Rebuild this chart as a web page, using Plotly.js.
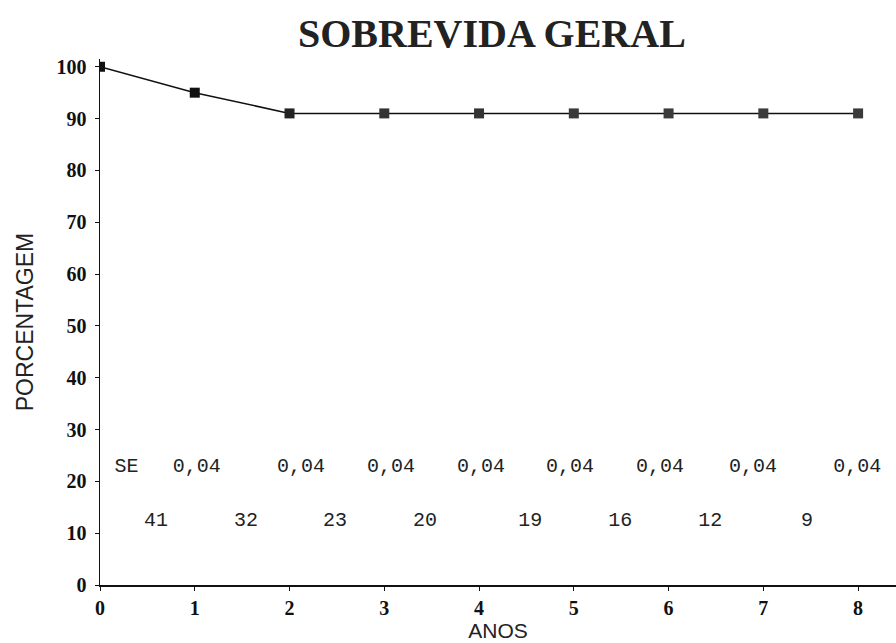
<!DOCTYPE html>
<html>
<head>
<meta charset="utf-8">
<script src="https://cdn.plot.ly/plotly-3.0.1.min.js"></script>
<style>html,body{margin:0;padding:0;background:#fff;}#chart{width:896px;height:643px;}</style>
</head>
<body>
<div id="chart"></div>
<script>
// Data
var years = [0, 1, 2, 3, 4, 5, 6, 7, 8];
var survival = [100, 95, 91, 91, 91, 91, 91, 91, 91];
var seLabels = ["SE", "0,04", "0,04", "0,04", "0,04", "0,04", "0,04", "0,04", "0,04"];
var seX = [0.28, 1.02, 2.12, 3.07, 4.02, 4.96, 5.91, 6.89, 7.99];
var seY = 22.8;
var atRisk = ["41", "32", "23", "20", "19", "16", "12", "9"];
var atRiskX = [0.59, 1.54, 2.48, 3.43, 4.54, 5.49, 6.44, 7.46];
var atRiskY = 12.4;
var yTicks = [0, 10, 20, 30, 40, 50, 60, 70, 80, 90, 100];

var monoFont = 'Liberation Mono, Courier New, monospace';
var serifFont = 'Liberation Serif, Times New Roman, serif';
var sansFont = 'Liberation Sans, Arial, sans-serif';

var traces = [
  {
    x: years, y: survival, type: 'scatter', mode: 'lines+markers',
    line: {color: '#111', width: 1.5},
    marker: {symbol: 'square', size: 10, color: ['#111','#111','#222','#333','#333','#3a3a3a','#3a3a3a','#3a3a3a','#3a3a3a']},
    hoverinfo: 'skip', showlegend: false
  },
  {
    x: seX, y: seX.map(function(){return seY;}), type: 'scatter', mode: 'text',
    text: seLabels, textposition: 'middle center',
    textfont: {family: monoFont, size: 20, color: '#222'},
    hoverinfo: 'skip', showlegend: false
  },
  {
    x: atRiskX, y: atRiskX.map(function(){return atRiskY;}), type: 'scatter', mode: 'text',
    text: atRisk, textposition: 'middle center',
    textfont: {family: monoFont, size: 20, color: '#222'},
    hoverinfo: 'skip', showlegend: false
  }
];

var layout = {
  width: 896, height: 643,
  paper_bgcolor: '#fff', plot_bgcolor: '#fff',
  margin: {l: 100, r: 0, t: 59, b: 58},
  title: {
    text: '<b>SOBREVIDA GERAL</b>',
    font: {family: serifFont, size: 40, color: '#222'},
    x: 0.549, xanchor: 'center', y: 0.948, yanchor: 'middle'
  },
  xaxis: {
    range: [0, 8.4], tickvals: years, ticktext: years.map(String),
    showgrid: false, zeroline: false, showline: true, linecolor: '#111', linewidth: 1.5,
    ticks: 'outside', ticklen: 4, tickcolor: '#111',
    tickfont: {family: serifFont, size: 20, color: '#111', weight: 'bold'},
    title: {text: 'ANOS', standoff: 6, font: {family: sansFont, size: 21, color: '#222'}}
  },
  yaxis: {
    range: [0, 101.5], tickvals: yTicks, ticktext: yTicks.map(String),
    showgrid: false, zeroline: false, showline: true, linecolor: '#111', linewidth: 1.5,
    ticks: 'outside', ticklen: 4, tickcolor: '#111', ticklabelstandoff: 4,
    tickfont: {family: serifFont, size: 20, color: '#111', weight: 'bold'},
    title: {text: 'PORCENTAGEM', standoff: 16, font: {family: sansFont, size: 23, color: '#222'}}
  }
};

Plotly.newPlot('chart', traces, layout, {staticPlot: true, displayModeBar: false});
</script>
</body>
</html>
